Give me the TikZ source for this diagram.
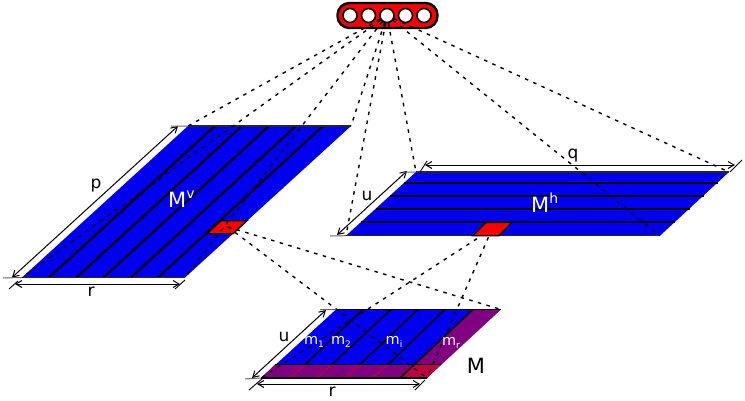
\documentclass[tikz,border=0pt]{standalone}
\usepackage{fontspec}
\setmainfont{DejaVu Sans}
\usetikzlibrary{arrows.meta}
\definecolor{planeblue}{RGB}{0,0,240}
\definecolor{bandpurple}{RGB}{128,0,128}
\definecolor{crimsonx}{RGB}{192,0,64}
\tikzset{
  plane/.style={fill=planeblue,draw=none},
  edgeline/.style={draw=black!85,line width=1.2pt},
  strip/.style={draw=black,line width=2.1pt},
  patch/.style={fill=red,draw=black,line width=1.4pt},
  dots/.style={draw=black,line width=1.4pt,dash pattern=on 3.5pt off 5.5pt},
  dim/.style={draw=black,line width=1pt,{Straight Barb[length=6pt,width=7pt]}-{Straight Barb[length=6pt,width=7pt]}},
  ext/.style={draw=black!60,line width=1pt},
  tick/.style={draw=black,line width=0.9pt},
  hole/.style={circle,fill=white,draw=black,line width=1.6pt,minimum size=14pt,inner sep=0pt},
  barnode/.style={rounded corners=12pt,fill=red,draw=black,line width=2.4pt,minimum width=100pt,minimum height=25pt,inner sep=0pt},
  dark/.style={text=black,font=\fontsize{17}{17}\selectfont,inner sep=0pt},
  light/.style={text=white,font=\fontsize{21}{21}\selectfont,inner sep=0pt},
  small/.style={text=white,font=\fontsize{14.5}{14.5}\selectfont,inner sep=0pt}
}
\newcommand{\supx}[1]{\raisebox{0.42em}{\fontsize{14}{14}\selectfont #1}}
\newcommand{\subx}[1]{\raisebox{-0.2em}{\fontsize{9}{9}\selectfont #1}}
\begin{document}
\begin{tikzpicture}[x=1pt,y=-1pt]
\useasboundingbox (0,0) rectangle (745,400);
% corners
\coordinate (vbl) at (22,277.5); \coordinate (vbr) at (185,277.5);
\coordinate (vtl) at (188,126); \coordinate (vtr) at (351,126);
\coordinate (hbl) at (346,235.7); \coordinate (hbr) at (660,235.7);
\coordinate (htl) at (416,172); \coordinate (htr) at (729,172);
\coordinate (mbl) at (261,378); \coordinate (mbr) at (427,378);
\coordinate (mtl) at (336,309.5); \coordinate (mtr) at (501,309.5);
\coordinate (vred) at (228,227); \coordinate (hred) at (492,229);
% Mv plane
\fill[plane] (vbl)--(vbr)--(vtr)--(vtl)--cycle;
\foreach \a/\b in {49/215,76.5/242,103.5/269,131/296,158/323}
  \draw[strip] (\a,277.5)--(\b,126);
\draw[edgeline] (vbl)--(vbr) (vtl)--(vtr);
\draw[patch] (221,220.7)--(247,220.7)--(233,233.7)--(207,233.7)--cycle;
% Mh plane
\fill[plane] (hbl)--(hbr)--(htr)--(htl)--cycle;
\foreach \y/\a/\b in {182.7/404.2/717.5,196/390/704,209.3/375.6/689.5,222.4/361.2/675}
  \draw[strip] (\a,\y)--(\b,\y);
\draw[edgeline] (hbl)--(hbr) (htl)--(htr);
% M plane
\fill[plane] (mbl)--(400,378)--(473,309.5)--(mtl)--cycle;
\fill[bandpurple] (400,378)--(mbr)--(mtr)--(473,309.5)--cycle;
\fill[bandpurple] (mbl)--(400,378)--(413.5,364.5)--(275,364.5)--cycle;
\fill[crimsonx] (400,378)--(mbr)--(441,364.5)--(413.5,364.5)--cycle;
\foreach \a/\b in {290/305,317/332,345/360,372/388}
  \draw[draw=crimsonx,line width=1.2pt] (\a,378)--(\b,364.5);
\foreach \a/\b in {305/363,332/391,360/418,388/445}
  \draw[draw=black,line width=1.6pt] (\a,364.5)--(\b,309.5);
\draw[draw=black,line width=1.6pt] (400,378)--(473,309.5);
\draw[draw=black,line width=1.6pt] (275,364.5)--(441,364.5);
\draw[draw=black,line width=1.5pt] (mbl)--(mbr) (mtl)--(mtr);
% top bar
\node[barnode] (bar) at (387.5,15.5) {};
\foreach \n/\x in {c1/350,c2/368.5,c4/405.5,c5/424}
  \node[hole] (\n) at (\x,15.5) {};
\node[hole] (c3) at (387,15.5) {};
% dotted rays
\draw[dots] (c3)--(vtl);
\draw[dots] (c3)--(vbl);
\draw[dots] (c3)--(vbr);
\draw[dots] (c3)--(vtr);
\draw[dots] (c3)--(hbl);
\draw[dots] (c3)--(htl);
\draw[dots] (c3)--(hbr);
\draw[dots] (c3)--(htr);
\draw[dots] (vred)--(mbr);
\draw[dots] (vred)--(mtr);
\draw[dots] (hred)--(mbl);
\draw[dots] (hred)--(mbr);
\draw[patch] (486,222.4)--(512,222.4)--(499,235.7)--(473,235.7)--cycle;
% dimensions Mv
\coordinate (p1) at (12,277.5); \coordinate (p2) at (178,126);
\draw[dim] (p1)--(p2);
\draw[ext] (3,278)--(vbl) (171,126)--(vtl);
\coordinate (r1) at (15,284); \coordinate (r2) at (180,284);
\draw[dim] (r1)--(r2);
\draw[tick] (9,289)--(18,281) (175,289)--(185,280);
% dimensions Mh
\coordinate (u1) at (337,235); \coordinate (u2) at (407,171);
\draw[dim] (u1)--(u2);
\draw[ext] (330,236)--(hbl) (403,172)--(htl);
\coordinate (q1) at (425,165); \coordinate (q2) at (735,165);
\draw[dim] (q1)--(q2);
\draw[tick] (420,172)--(427,161) (730,172)--(742,160);
% dimensions M
\coordinate (w1) at (252,378); \coordinate (w2) at (326,310);
\draw[dim] (w1)--(w2);
\draw[ext] (245,379)--(mbl) (320,309.5)--(mtl);
\coordinate (s1) at (257,384); \coordinate (s2) at (420,384);
\draw[dim] (s1)--(s2);
\draw[tick] (249,390)--(263,378) (415,390)--(425,380);
% labels
\node[dark] (lp) at (96,186) {p};
\node[dark] (lr) at (91,292) {r};
\node[light,anchor=west] (lmv) at (168,199) {M\supx{v}};
\node[dark] (lq) at (573,156) {q};
\node[dark] (lu) at (367,196) {u};
\node[light,anchor=west] (lmh) at (531,203) {M\supx{h}};
\node[dark] (lu2) at (284,337) {u};
\node[small] (m1) at (314,342) {m\subx{1}};
\node[small] (m2) at (341,342) {m\subx{2}};
\node[small] (mi) at (394,342) {m\subx{i}};
\node[small] (mr) at (451,343) {m\subx{r}};
\node[text=black,font=\fontsize{21}{21}\selectfont,inner sep=0pt] (lm) at (476,366) {M};
\node[dark] (lr2) at (332,392) {r};
\end{tikzpicture}
\end{document}
